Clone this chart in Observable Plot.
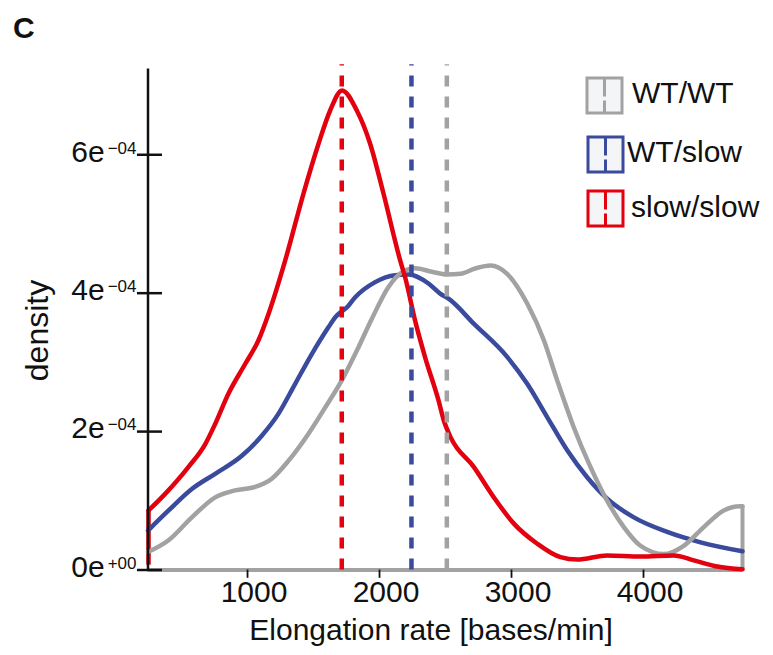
<!DOCTYPE html>
<html><head><meta charset="utf-8">
<script src="https://cdn.jsdelivr.net/npm/d3@7"></script>
<script src="https://cdn.jsdelivr.net/npm/@observablehq/plot@0.6"></script>
<style>body{margin:0;background:#fff;} svg{display:block}</style>
</head><body>
<script>
// ---- data ----
const groups = ["WT/WT", "WT/slow", "slow/slow"];
const colors = ["#a3a2a2", "#3a4a9c", "#e3000f"];
const medianRate = [2510, 2242, 1714];

const rateWT = [246, 402, 578, 755, 907, 1058, 1184, 1311, 1462, 1589, 1714, 1841, 1942, 2068, 2169, 2270, 2396, 2510, 2614, 2730, 2841, 2967, 3119, 3245, 3346, 3472, 3598, 3725, 3851, 3977, 4154, 4305, 4457, 4608, 4735, 4750];
const densWT_e4 = [0.26, 0.43, 0.76, 1.05, 1.15, 1.20, 1.32, 1.58, 1.97, 2.35, 2.74, 3.22, 3.63, 4.09, 4.30, 4.36, 4.31, 4.27, 4.28, 4.36, 4.40, 4.28, 3.85, 3.32, 2.74, 2.06, 1.49, 1.00, 0.62, 0.35, 0.23, 0.35, 0.62, 0.86, 0.92, 0.92];

const rateWTslow = [246, 402, 578, 755, 957, 1108, 1235, 1361, 1487, 1614, 1664, 1765, 1816, 1967, 2119, 2220, 2371, 2462, 2523, 2714, 2967, 3119, 3270, 3422, 3573, 3725, 3927, 4179, 4432, 4750];
const densWTslow_e4 = [0.57, 0.86, 1.17, 1.39, 1.65, 1.94, 2.26, 2.69, 3.12, 3.51, 3.65, 3.82, 3.94, 4.16, 4.26, 4.27, 4.14, 3.99, 3.92, 3.56, 3.08, 2.69, 2.21, 1.73, 1.34, 1.03, 0.76, 0.55, 0.40, 0.27];

const rateSlow = [250, 376, 553, 680, 755, 856, 983, 1083, 1159, 1285, 1424, 1538, 1626, 1716, 1828, 1929, 2030, 2157, 2194, 2270, 2346, 2447, 2487, 2538, 2714, 2866, 3018, 3195, 3371, 3497, 3725, 3977, 4230, 4381, 4558, 4750];
const densSlow_e4 = [0.86, 1.10, 1.49, 1.82, 2.11, 2.55, 2.98, 3.32, 3.70, 4.47, 5.44, 6.16, 6.64, 6.93, 6.64, 6.16, 5.44, 4.47, 4.23, 3.60, 3.07, 2.45, 2.16, 1.92, 1.49, 1.05, 0.67, 0.38, 0.185, 0.15, 0.21, 0.195, 0.21, 0.14, 0.05, 0.01];

const xTicks = [1000, 2000, 3000, 4000];
const yTicks = [0, 2e-4, 4e-4, 6e-4];
const yTickMantissa = ["0e", "2e", "4e", "6e"];
const yTickExponent = ["+00", "\u221204", "\u221204", "\u221204"];
const xDomain = [246, 4750];
const yDomain = [0, 7.3e-4];
const xTitle = "Elongation rate [bases/min]";
const yTitle = "density";

// ---- build ----
const toRows = (xs, ys) => xs.map((x, i) => ({x, y: ys[i] * 1e-4}));
const series = [toRows(rateWT, densWT_e4), toRows(rateWTslow, densWTslow_e4), toRows(rateSlow, densSlow_e4)];
const font = "'Liberation Sans', Arial, Helvetica, sans-serif";
const lw = 4.5;

const marks = [];
marks.push(Plot.ruleY([0], {x1: xDomain[0], x2: xDomain[1], stroke: colors[0], strokeWidth: 4}));
marks.push(Plot.ruleX([xDomain[1]], {y1: 0, y2: densWT_e4[densWT_e4.length - 1] * 1e-4, stroke: colors[0], strokeWidth: 4}));
marks.push(Plot.ruleX([rateSlow[0]], {y1: 0.07e-4, y2: densSlow_e4[0] * 1e-4, stroke: colors[2], strokeWidth: lw}));
[1, 0, 2].forEach(i => {
  marks.push(Plot.line(series[i], {x: "x", y: "y", stroke: colors[i], strokeWidth: lw, curve: "monotone-x", strokeLinejoin: "round"}));
});
[0, 1, 2].forEach(i => {
  marks.push(Plot.ruleX([medianRate[i]], {y1: 0, y2: yDomain[1], stroke: colors[i], strokeWidth: lw, strokeDasharray: "11,10"}));
});
// y axis line and ticks (crossing the axis)
marks.push(Plot.ruleX([xDomain[0]], {y1: -0.02e-4, y2: 7.24e-4, stroke: "#111", strokeWidth: 2.5}));
marks.push(Plot.ruleY(yTicks, {y: d => d, x1: 166, x2: 356, stroke: "#111", strokeWidth: 2.5}));
// x tick marks
marks.push(Plot.ruleX(xTicks, {x: d => d, y1: 0, y2: -0.12e-4, stroke: "#111", strokeWidth: 1.8}));

const svg = Plot.plot({
  width: 773,
  height: 655,
  marginTop: 64.3,
  marginRight: 31,
  marginBottom: 85.5,
  marginLeft: 147.5,
  x: {domain: xDomain, axis: null},
  y: {domain: yDomain, axis: null},
  style: {fontFamily: font, fontSize: "30px", background: "#fff", overflow: "visible", color: "#111"},
  marks
});
document.body.appendChild(svg);

const sx = svg.scale("x"), sy = svg.scale("y");
const s = d3.select(svg);
const txt = (x, y, str, size, anchor) => s.append("text").attr("x", x).attr("y", y)
  .attr("font-size", size).attr("font-family", font).attr("fill", "#111")
  .attr("text-anchor", anchor).text(str);

// x tick labels
xTicks.forEach(v => txt(sx.apply(v) + 7, 601.7, String(v), 30, "middle"));
// y tick labels with superscripts
yTicks.forEach((v, k) => {
  const t = s.append("text").attr("x", 136.5).attr("y", sy.apply(v) + 7.4)
    .attr("font-size", 30).attr("font-family", font).attr("fill", "#111").attr("text-anchor", "end");
  t.append("tspan").text(yTickMantissa[k]);
  t.append("tspan").attr("font-size", 17).attr("dy", -8).attr("dx", 3).text(yTickExponent[k]);
});
// axis titles
txt(249.3, 640, xTitle, 30, "start");
s.append("text").attr("transform", "translate(48,330.5) rotate(-90)")
  .attr("font-size", 32).attr("font-family", font).attr("fill", "#111").attr("text-anchor", "middle").text(yTitle);
// panel letter
txt(13, 38, "C", 30, "start").attr("font-weight", "bold");

// legend
const legendLayout = [
  {bx: 587, by: 78, tx: 632, ty: 103},
  {bx: 588, by: 137, tx: 627, ty: 162},
  {bx: 588, by: 191, tx: 631, ty: 217}
];
legendLayout.forEach((L, i) => {
  const w = 35, h = 35;
  s.append("rect").attr("x", L.bx).attr("y", L.by).attr("width", w).attr("height", h)
    .attr("fill", "#f4f5f7").attr("stroke", colors[i]).attr("stroke-width", 3);
  const cx = L.bx + w / 2;
  s.append("line").attr("x1", cx).attr("x2", cx).attr("y1", L.by).attr("y2", L.by + h / 2 + 1)
    .attr("stroke", colors[i]).attr("stroke-width", 3);
  s.append("line").attr("x1", cx).attr("x2", cx).attr("y1", L.by + h / 2 + 5).attr("y2", L.by + h)
    .attr("stroke", colors[i]).attr("stroke-width", 3);
  txt(L.tx, L.ty, groups[i], 30, "start");
});
</script>
</body></html>
